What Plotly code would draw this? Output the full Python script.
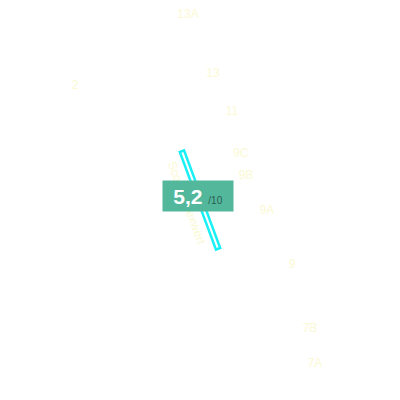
import math
import plotly.graph_objects as go

# --------------------------------------------------
# Data
# --------------------------------------------------
labels = ["13A", "13", "11", "9C", "9B", "9A", "9", "7B", "7A", "2"]
label_x = [188, 213, 232, 241, 246, 267, 292, 310, 315, 75]
label_y = [15, 74, 112, 154, 176, 211, 265, 329, 364, 86]

needle_x = [181.5, 218.5]
needle_y = [150, 250]

score = "5,2"
score_max = "/10"
needle_caption = "Score-Indexwert"

LABEL_COLOR = "#fbf9d4"
CYAN = "#19f0f5"
BADGE = "#52b79b"

# the page body adds an 8px margin, so the axes are shifted to compensate
OFFSET = 8

# --------------------------------------------------
# Figure
# --------------------------------------------------
fig = go.Figure()

# Scattered position labels
fig.add_trace(
    go.Scatter(
        x=label_x,
        y=label_y,
        mode="text",
        text=labels,
        textfont=dict(family="Liberation Sans, Arial", size=12, color=LABEL_COLOR),
        hoverinfo="skip",
    )
)

# Needle: cyan outline with a thin white core
dx = needle_x[1] - needle_x[0]
dy = needle_y[1] - needle_y[0]
length = math.hypot(dx, dy)
ux, uy = dx / length, dy / length
inset = 2.5
core_x = [needle_x[0] + ux * inset, needle_x[1] - ux * inset]
core_y = [needle_y[0] + uy * inset, needle_y[1] - uy * inset]

fig.add_trace(
    go.Scatter(
        x=needle_x, y=needle_y, mode="lines",
        line=dict(color=CYAN, width=7), hoverinfo="skip",
    )
)
fig.add_trace(
    go.Scatter(
        x=core_x, y=core_y, mode="lines",
        line=dict(color="white", width=2), hoverinfo="skip",
    )
)

# Rotated caption running along the needle
angle = math.degrees(math.atan2(dy, dx))
mid_x = (needle_x[0] + needle_x[1]) / 2
mid_y = (needle_y[0] + needle_y[1]) / 2
fig.add_annotation(
    x=mid_x - 14 * uy,
    y=mid_y + 14 * ux - 2,
    text=needle_caption,
    textangle=angle,
    showarrow=False,
    font=dict(family="Liberation Sans, Arial", size=12, color=LABEL_COLOR),
)

# Score badge
fig.add_annotation(
    x=mid_x - 2,
    y=mid_y - 4,
    text=(
        f"<b>{score}</b> "
        f"<span style='font-size:10px;color:#2c5d50'>{score_max}</span>"
    ),
    showarrow=False,
    font=dict(family="Liberation Sans, Arial", size=21, color="white"),
    bgcolor=BADGE,
    borderpad=2,
    width=66,
    height=26,
    align="center",
    valign="middle",
)

fig.update_layout(
    width=400,
    height=400,
    margin=dict(l=0, r=0, t=0, b=0),
    plot_bgcolor="white",
    paper_bgcolor="white",
    showlegend=False,
)
fig.update_xaxes(range=[OFFSET, 400 + OFFSET], visible=False, fixedrange=True)
fig.update_yaxes(range=[400 + OFFSET, OFFSET], visible=False, fixedrange=True)

fig.write_html("out.html")
